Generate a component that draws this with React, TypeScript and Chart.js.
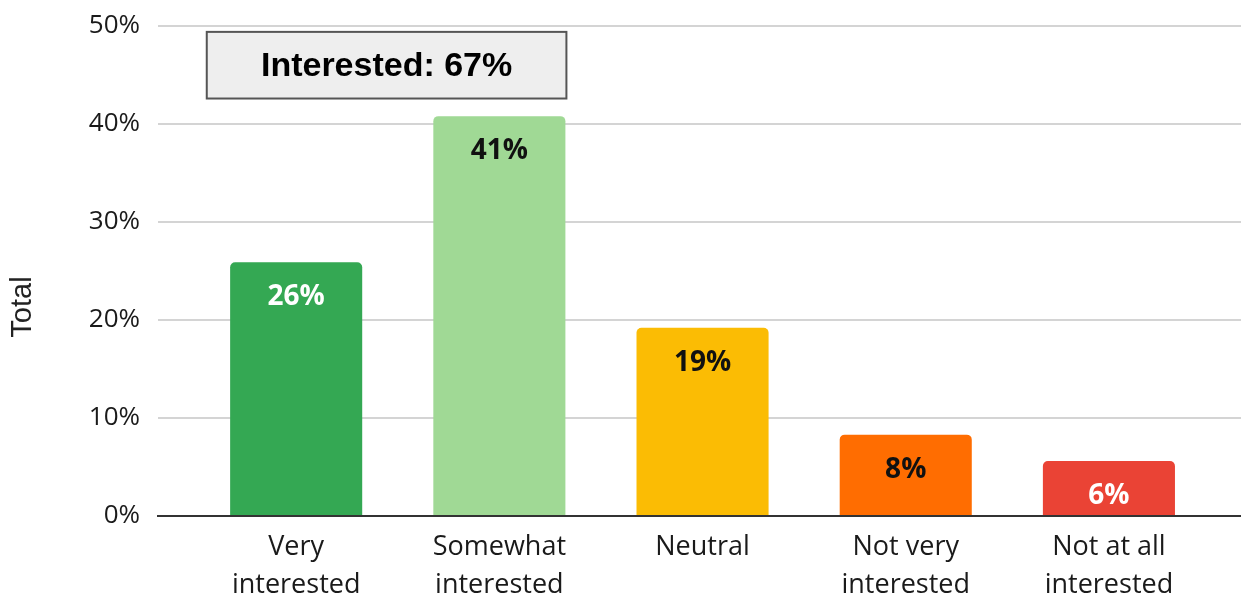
import React, { useEffect, useRef } from "react";
import { Chart, registerables } from "chart.js";

Chart.register(...registerables);

const categories: string[][] = [
  ["Very", "interested"],
  ["Somewhat", "interested"],
  ["Neutral"],
  ["Not very", "interested"],
  ["Not at all", "interested"],
];
const values: number[] = [25.9, 40.8, 19.2, 8.3, 5.6];
const valueLabels: string[] = ["26%", "41%", "19%", "8%", "6%"];
const barColors: string[] = ["#34a853", "#a0d995", "#fbbc04", "#ff6d01", "#ea4335"];
const labelColors: string[] = ["#ffffff", "#111111", "#111111", "#111111", "#ffffff"];
const yTicks: number[] = [0, 10, 20, 30, 40, 50];
const yTitle = "Total";
const calloutText = "Interested: 67%";
// callout box bounds in data units (x: category index, y: percent)
const calloutX: number[] = [-0.44, 1.33];
const calloutY: number[] = [49.4, 42.6];

const extrasPlugin = {
  id: "extras",
  afterDatasetsDraw(chart: any) {
    const { ctx, chartArea, scales } = chart;
    const xs = scales.x;
    const ys = scales.y;
    const meta = chart.getDatasetMeta(0);
    ctx.save();
    // value labels inside bars
    ctx.font = "bold 28px 'Open Sans'";
    ctx.textAlign = "center";
    ctx.textBaseline = "middle";
    meta.data.forEach((bar: any, i: number) => {
      ctx.fillStyle = labelColors[i];
      ctx.fillText(valueLabels[i], bar.x, bar.y + 35);
    });
    // callout box
    const x0 = xs.getPixelForValue(calloutX[0]);
    const x1 = xs.getPixelForValue(calloutX[1]);
    const y0 = ys.getPixelForValue(calloutY[0]);
    const y1 = ys.getPixelForValue(calloutY[1]);
    ctx.fillStyle = "#eeeeee";
    ctx.fillRect(x0, y0, x1 - x0, y1 - y0);
    ctx.strokeStyle = "#555555";
    ctx.lineWidth = 2;
    ctx.strokeRect(x0, y0, x1 - x0, y1 - y0);
    ctx.fillStyle = "#000000";
    ctx.font = "bold 34px 'Liberation Sans'";
    ctx.fillText(calloutText, (x0 + x1) / 2, (y0 + y1) / 2 + 1);
    // y axis title
    ctx.translate(23, (chartArea.top + chartArea.bottom) / 2 + 36);
    ctx.rotate(-Math.PI / 2);
    ctx.font = "29px 'Liberation Sans'";
    ctx.fillStyle = "#222222";
    ctx.fillText(yTitle, 0, 0);
    ctx.restore();
  },
};

export default function App() {
  const ref = useRef<HTMLCanvasElement | null>(null);
  useEffect(() => {
    if (!ref.current) return;
    const chart = new Chart(ref.current, {
      type: "bar",
      data: {
        datasets: [
          {
            data: values.map((v, i) => ({ x: i, y: v })),
            backgroundColor: barColors,
            borderRadius: { topLeft: 5, topRight: 5, bottomLeft: 0, bottomRight: 0 },
            borderSkipped: "start",
            categoryPercentage: 1,
            barPercentage: 0.65,
          },
        ],
      },
      options: {
        responsive: false,
        animation: false,
        layout: { padding: { top: 26, right: 0, left: 0, bottom: 0 } },
        plugins: {
          legend: { display: false },
          tooltip: { enabled: false },
        },
        scales: {
          x: {
            type: "linear",
            min: -0.68,
            max: 4.65,
            offset: false,
            afterFit: (s: any) => {
              s.height = 83;
              s.paddingLeft = 0;
              s.paddingRight = 0;
            },
            afterBuildTicks: (s: any) => {
              s.ticks = categories.map((_, i) => ({ value: i }));
            },
            grid: { display: false, drawTicks: false, offset: false },
            border: { display: true, color: "#333333", width: 2 },
            ticks: {
              padding: 13,
              maxRotation: 0,
              autoSkip: false,
              color: "#1a1a1a",
              font: { family: "'Open Sans'", size: 27, lineHeight: 1.38 },
              callback: (v: any) => categories[Math.round(Number(v))] ?? "",
            },
          },
          y: {
            min: 0,
            max: 50,
            afterFit: (s: any) => {
              s.width = 158;
              s.paddingTop = 0;
              s.paddingBottom = 0;
            },
            afterBuildTicks: (s: any) => {
              s.ticks = yTicks.map((v) => ({ value: v }));
            },
            grid: {
              drawTicks: false,
              lineWidth: 2,
              color: (c: any) => (c.tick && c.tick.value === 0 ? "rgba(0,0,0,0)" : "#d4d4d4"),
            },
            border: { display: false },
            ticks: {
              padding: 18,
              color: "#1a1a1a",
              font: { family: "'Open Sans'", size: 26 },
              callback: (v: any) => `${v}%`,
            },
          },
        },
      },
      plugins: [extrasPlugin],
    } as any);
    return () => chart.destroy();
  }, []);
  return (
    <div style={{ position: "absolute", left: 0, top: 0, width: 1241, height: 599, background: "#fff" }}>
      <canvas ref={ref} width={1241} height={599} />
    </div>
  );
}
